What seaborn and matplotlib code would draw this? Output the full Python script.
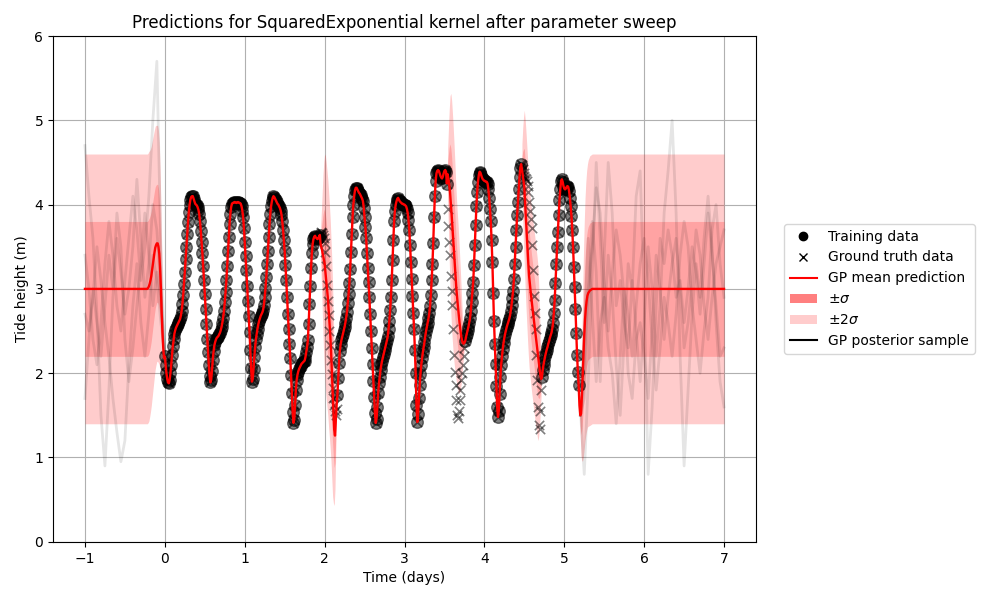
import numpy as np
import pandas as pd
import matplotlib
matplotlib.use("Agg")
import matplotlib.pyplot as plt
import seaborn as sns
from matplotlib.lines import Line2D
from matplotlib.patches import Patch

# ==========================================
# Datos
# ==========================================
# marea observada (ground truth), una lectura cada 0.01 dias desde t=0
obs_start = 0.0
obs_step = 0.01
tide_height = [
    2.20, 2.10, 2.00, 1.93, 1.89, 1.88, 1.92, 2.00, 2.10, 2.22,
    2.32, 2.40, 2.47, 2.51, 2.54, 2.56, 2.58, 2.60, 2.62, 2.64,
    2.68, 2.74, 2.82, 2.93, 3.06, 3.20, 3.35, 3.50, 3.65, 3.79,
    3.91, 4.00, 4.06, 4.09, 4.10, 4.10, 4.07, 4.04, 4.01, 4.00,
    3.99, 3.97, 3.94, 3.89, 3.80, 3.69, 3.56, 3.42, 3.27, 3.11,
    2.94, 2.76, 2.58, 2.41, 2.25, 2.10, 1.97, 1.89, 1.92, 2.03,
    2.16, 2.26, 2.33, 2.37, 2.40, 2.42, 2.43, 2.44, 2.46, 2.48,
    2.51, 2.55, 2.60, 2.66, 2.74, 2.84, 2.96, 3.10, 3.27, 3.45,
    3.62, 3.77, 3.89, 3.97, 4.01, 4.02, 4.02, 4.03, 4.03, 4.02,
    4.02, 4.03, 4.03, 4.02, 4.02, 4.01, 3.98, 3.93, 3.85, 3.72,
    3.56, 3.39, 3.22, 3.04, 2.86, 2.68, 2.49, 2.28, 2.06, 1.90,
    1.93, 2.05, 2.19, 2.31, 2.40, 2.47, 2.53, 2.58, 2.62, 2.65,
    2.68, 2.70, 2.72, 2.75, 2.81, 2.90, 3.01, 3.14, 3.29, 3.45,
    3.62, 3.77, 3.89, 3.98, 4.04, 4.08, 4.10, 4.09, 4.07, 4.05,
    4.03, 4.01, 4.00, 3.98, 3.96, 3.93, 3.88, 3.80, 3.70, 3.58,
    3.45, 3.28, 3.10, 2.90, 2.70, 2.52, 2.35, 2.18, 1.98, 1.76,
    1.54, 1.41, 1.45, 1.62, 1.80, 1.92, 1.98, 2.02, 2.05, 2.07,
    2.09, 2.11, 2.12, 2.13, 2.14, 2.15, 2.19, 2.25, 2.31, 2.39,
    2.58, 2.82, 3.04, 3.25, 3.42, 3.53, 3.59, 3.62, 3.63, 3.61,
    3.60, 3.59, 3.60, 3.62, 3.64, 3.66, 3.67, 3.66, 3.64, 3.60,
    3.54, 3.44, 3.27, 3.05, 2.86, 2.69, 2.50, 2.33, 2.16, 1.99,
    1.83, 1.71, 1.62, 1.55, 1.50, 1.58, 1.74, 1.94, 2.12, 2.26,
    2.34, 2.39, 2.43, 2.47, 2.51, 2.55, 2.60, 2.66, 2.73, 2.83,
    2.94, 3.07, 3.24, 3.44, 3.65, 3.85, 4.00, 4.10, 4.17, 4.20,
    4.20, 4.18, 4.16, 4.14, 4.13, 4.11, 4.09, 4.07, 4.04, 3.96,
    3.85, 3.74, 3.60, 3.43, 3.25, 3.08, 2.90, 2.70, 2.50, 2.30,
    2.11, 1.91, 1.72, 1.53, 1.41, 1.46, 1.60, 1.76, 1.88, 1.96,
    2.04, 2.10, 2.15, 2.19, 2.23, 2.27, 2.31, 2.35, 2.39, 2.44,
    2.52, 2.62, 2.75, 2.90, 3.10, 3.34, 3.58, 3.80, 3.93, 4.00,
    4.04, 4.07, 4.08, 4.06, 4.04, 4.03, 4.02, 4.01, 4.01, 4.00,
    4.00, 3.99, 3.98, 3.95, 3.90, 3.82, 3.70, 3.52, 3.32, 3.12,
    2.92, 2.72, 2.52, 2.28, 2.00, 1.62, 1.42, 1.52, 1.70, 1.86,
    1.99, 2.10, 2.18, 2.25, 2.31, 2.37, 2.44, 2.50, 2.55, 2.60,
    2.65, 2.71, 2.80, 2.93, 3.10, 3.30, 3.55, 3.85, 4.10, 4.28,
    4.37, 4.40, 4.41, 4.40, 4.37, 4.34, 4.32, 4.31, 4.33, 4.37,
    4.40, 4.41, 4.39, 4.25, 3.95, 3.75, 3.56, 3.40, 3.15, 2.97,
    2.81, 2.52, 2.22, 2.02, 1.86, 1.68, 1.50, 1.47, 1.55, 1.68,
    1.80, 1.92, 2.00, 2.10, 2.20, 2.30, 2.38, 2.43, 2.47, 2.51,
    2.55, 2.60, 2.65, 2.74, 2.85, 2.95, 3.08, 3.28, 3.52, 3.76,
    3.98, 4.15, 4.27, 4.35, 4.39, 4.38, 4.35, 4.32, 4.30, 4.29,
    4.28, 4.28, 4.27, 4.27, 4.25, 4.18, 4.08, 3.95, 3.80, 3.58,
    3.32, 2.95, 2.62, 2.35, 2.11, 1.85, 1.60, 1.48, 1.55, 1.75,
    1.95, 2.10, 2.20, 2.29, 2.36, 2.42, 2.47, 2.51, 2.55, 2.58,
    2.61, 2.64, 2.68, 2.74, 2.81, 2.89, 2.98, 3.12, 3.30, 3.50,
    3.70, 3.88, 4.03, 4.18, 4.33, 4.44, 4.48, 4.47, 4.42, 4.37,
    4.34, 4.32, 4.30, 4.28, 4.22, 4.15, 4.03, 3.92, 3.83, 3.72,
    3.52, 3.23, 2.92, 2.72, 2.52, 2.22, 1.92, 1.60, 1.38, 1.34,
    1.55, 1.80, 1.95, 2.04, 2.10, 2.15, 2.20, 2.24, 2.28, 2.31,
    2.35, 2.38, 2.42, 2.45, 2.48, 2.53, 2.60, 2.72, 2.87, 3.07,
    3.30, 3.50, 3.68, 3.88, 4.05, 4.18, 4.28, 4.30, 4.27, 4.22,
    4.19, 4.18, 4.19, 4.21, 4.22, 4.21, 4.16, 4.08, 3.98, 3.86,
    3.70, 3.50, 3.26, 3.02, 2.76, 2.48, 2.22, 2.02, 1.86,
]

# huecos en los datos de entrenamiento (inicio, media GP, desviacion GP)
gap_starts = [1.95, 3.54, 4.47]
gap1_mean = [3.53, 3.49, 3.45, 3.40, 3.35, 3.30, 3.20, 3.10, 3.00, 2.90, 2.76,
             2.62, 2.47, 2.28, 2.05, 1.80, 1.56, 1.33, 1.26, 1.45, 1.62]
gap1_sd = [0.10, 0.22, 0.35, 0.48, 0.58, 0.65, 0.69, 0.70, 0.70, 0.70, 0.70,
           0.69, 0.68, 0.66, 0.65, 0.63, 0.55, 0.45, 0.32, 0.18, 0.06]
gap2_mean = [4.36, 4.30, 4.23, 4.15, 4.02, 3.88, 3.73, 3.58, 3.43, 3.28, 3.13,
             2.99, 2.88, 2.78, 2.68, 2.59, 2.51, 2.44, 2.39, 2.36, 2.35, 2.36]
gap2_sd = [0.15, 0.30, 0.45, 0.57, 0.65, 0.68, 0.68, 0.67, 0.65, 0.62, 0.58,
           0.55, 0.52, 0.50, 0.46, 0.41, 0.35, 0.28, 0.20, 0.13, 0.07, 0.03]
gap3_mean = [4.42, 4.35, 4.28, 4.20, 4.02, 3.84, 3.66, 3.48, 3.30, 3.15, 3.05,
             2.96, 2.87, 2.79, 2.71, 2.63, 2.55, 2.47, 2.40, 2.32, 2.24, 2.15,
             2.06, 1.98, 1.93]
gap3_sd = [0.15, 0.28, 0.38, 0.46, 0.50, 0.52, 0.53, 0.54, 0.54, 0.54, 0.54,
           0.54, 0.54, 0.54, 0.54, 0.54, 0.54, 0.54, 0.53, 0.53, 0.52, 0.45,
           0.35, 0.22, 0.10]

# prediccion fuera del rango de datos
left_t = [-1.00, -0.22, -0.21, -0.20, -0.19, -0.18, -0.17, -0.16, -0.15, -0.14,
          -0.13, -0.12, -0.11, -0.10, -0.09, -0.08, -0.07, -0.06, -0.05, -0.04,
          -0.03, -0.02, -0.01]
left_mean = [3.00, 3.00, 3.01, 3.03, 3.06, 3.10, 3.15, 3.22, 3.29, 3.36,
             3.43, 3.49, 3.52, 3.54, 3.54, 3.50, 3.42, 3.25, 3.02, 2.72,
             2.48, 2.30, 2.18]
left_sd = [0.80, 0.80, 0.80, 0.80, 0.79, 0.78, 0.77, 0.76, 0.75, 0.74,
           0.73, 0.72, 0.71, 0.70, 0.70, 0.69, 0.66, 0.60, 0.50, 0.38,
           0.25, 0.14, 0.06]
right_t = [5.19, 5.20, 5.21, 5.22, 5.23, 5.24, 5.25, 5.26, 5.27, 5.28,
           5.29, 5.30, 5.32, 5.35, 7.00]
right_mean = [1.62, 1.50, 1.52, 1.72, 1.96, 2.22, 2.45, 2.64, 2.77, 2.86,
              2.92, 2.95, 2.98, 3.00, 3.00]
right_sd = [0.05, 0.12, 0.25, 0.38, 0.50, 0.60, 0.67, 0.72, 0.75, 0.77,
            0.78, 0.79, 0.80, 0.80, 0.80]

# muestras de la posterior (cada 0.05 dias)
sample_step = 0.05
sample_left_start = -1.0
sample_right_start = 5.2
sample_left_1 = [4.7, 4.1, 3.6, 2.7, 1.5, 0.9, 1.8, 2.9, 3.6, 3.2, 2.7,
                 3.0, 3.5, 4.3, 3.6, 2.9, 3.3, 4.0, 3.7, 3.0, 2.2]
sample_left_2 = [2.7, 2.5, 2.9, 3.5, 3.1, 2.6, 2.2, 1.7, 1.3, 0.95, 1.2,
                 2.1, 2.8, 3.3, 2.6, 2.2, 2.7, 3.4, 3.1, 2.6, 2.2]
sample_left_3 = [3.4, 3.0, 2.4, 2.1, 2.6, 3.3, 3.8, 3.4, 2.8, 2.5, 3.1,
                 3.6, 4.1, 3.7, 3.1, 3.5, 4.1, 5.0, 5.7, 3.5, 2.2]
sample_left_4 = [1.7, 2.4, 3.0, 2.6, 2.2, 2.8, 3.4, 3.0, 3.9, 3.5, 2.4,
                 1.9, 2.3, 2.8, 3.3, 3.9, 3.4, 2.8, 3.2, 2.9, 2.2]
sample_right_1 = [1.6, 0.8, 1.9, 3.2, 4.5, 3.6, 2.6, 3.4, 2.9, 2.1,
                  1.5, 2.4, 3.3, 3.0, 4.1, 4.4, 2.9, 0.8, 1.6, 2.8,
                  3.6, 3.3, 3.7, 3.4, 2.9, 3.1, 2.6, 3.0, 3.5, 3.2,
                  2.7, 3.3, 3.9, 3.4, 2.8, 2.2, 2.3]
sample_right_2 = [1.5, 1.7, 2.8, 3.8, 3.2, 1.9, 3.4, 4.5, 3.9, 2.8,
                  3.1, 2.6, 2.3, 3.1, 2.5, 1.9, 2.6, 3.5, 3.0, 2.2,
                  2.8, 3.9, 4.4, 5.0, 3.9, 2.2, 0.9, 1.8, 2.7, 3.3,
                  2.9, 3.6, 4.1, 3.5, 2.6, 1.9, 1.6]
sample_right_3 = [1.5, 2.5, 3.6, 2.7, 1.9, 2.6, 2.9, 2.3, 2.0, 1.4,
                  2.2, 3.0, 2.7, 2.2, 2.8, 3.3, 3.6, 3.1, 2.4, 1.8,
                  2.3, 2.9, 2.6, 2.2, 2.7, 3.4, 3.8, 3.5, 2.8, 2.4,
                  2.0, 2.5, 2.9, 3.7, 4.0, 3.3, 2.9]
sample_right_4 = [1.5, 2.1, 3.0, 3.5, 4.2, 3.9, 3.1, 2.5, 3.2, 3.7,
                  3.4, 2.9, 2.0, 1.7, 2.4, 2.6, 2.2, 1.7, 2.5, 3.4,
                  3.0, 2.4, 2.9, 3.3, 3.6, 3.0, 2.3, 2.6, 3.1, 3.7,
                  3.4, 2.8, 2.4, 2.9, 3.3, 3.5, 3.7]

# ==========================================
# Preparacion
# ==========================================
tide = np.array(tide_height)
t_obs = np.round(obs_start + obs_step * np.arange(len(tide)), 2)

gap_means = [gap1_mean, gap2_mean, gap3_mean]
gap_sds = [gap1_sd, gap2_sd, gap3_sd]
gap_ts = [np.round(s + obs_step * np.arange(len(m)), 2) for s, m in zip(gap_starts, gap_means)]

in_gap = np.zeros(len(t_obs), dtype=bool)
mean_obs = tide.copy()
for gt, gm in zip(gap_ts, gap_means):
    idx = np.searchsorted(t_obs, gt)
    in_gap[idx] = True
    mean_obs[idx] = gm

train_df = pd.DataFrame({"t": t_obs[~in_gap], "h": tide[~in_gap]})
truth_df = pd.DataFrame({"t": t_obs, "h": tide})
mean_df = pd.DataFrame({
    "t": np.concatenate([left_t, t_obs, right_t]),
    "h": np.concatenate([left_mean, mean_obs, right_mean]),
})

rows = []
left_s = [sample_left_1, sample_left_2, sample_left_3, sample_left_4]
right_s = [sample_right_1, sample_right_2, sample_right_3, sample_right_4]
for k, s in enumerate(left_s):
    ts = np.round(sample_left_start + sample_step * np.arange(len(s)), 2)
    rows.append(pd.DataFrame({"t": ts, "h": s, "unit": f"L{k}"}))
for k, s in enumerate(right_s):
    ts = np.round(sample_right_start + sample_step * np.arange(len(s)), 2)
    rows.append(pd.DataFrame({"t": ts, "h": s, "unit": f"R{k}"}))
samples_df = pd.concat(rows, ignore_index=True)

band_segments = [(left_t, left_mean, left_sd)] + \
    list(zip(gap_ts, gap_means, gap_sds)) + [(right_t, right_mean, right_sd)]

# ==========================================
# Grafico
# ==========================================
fig = plt.figure(figsize=(10, 6), dpi=100)
ax = fig.add_axes([0.053, 0.097, 0.703, 0.843])

for bt, bm, bs in band_segments:
    bt, bm, bs = np.asarray(bt), np.asarray(bm), np.asarray(bs)
    ax.fill_between(bt, bm - 2 * bs, bm + 2 * bs, color="red", alpha=0.2, lw=0, zorder=1)
    ax.fill_between(bt, bm - bs, bm + bs, color="red", alpha=0.2, lw=0, zorder=1)

sns.lineplot(data=samples_df, x="t", y="h", units="unit", estimator=None,
             color="k", alpha=0.1, lw=2, ax=ax, legend=False, zorder=2)

sns.scatterplot(data=truth_df, x="t", y="h", marker="x", color="k", alpha=0.5,
                s=45, linewidth=1.2, ax=ax, legend=False, zorder=3)
sns.scatterplot(data=train_df, x="t", y="h", marker="o", color="k", alpha=0.5,
                s=70, edgecolor="k", linewidth=1.0, ax=ax, legend=False, zorder=4)

sns.lineplot(data=mean_df, x="t", y="h", estimator=None, sort=True,
             color="red", lw=1.7, ax=ax, zorder=5)

ax.set_xlim(-1.4, 7.4)
ax.set_ylim(0, 6)
ax.grid(True)
ax.set_axisbelow(True)
ax.set_title("Predictions for SquaredExponential kernel after parameter sweep")
ax.set_xlabel("Time (days)")
ax.set_ylabel("Tide height (m)")

handles = [
    Line2D([], [], color="k", marker="o", ls="none", label="Training data"),
    Line2D([], [], color="k", marker="x", ls="none", label="Ground truth data"),
    Line2D([], [], color="red", lw=1.5, label="GP mean prediction"),
    Patch(facecolor="red", alpha=0.5, label=r"$\pm\sigma$"),
    Patch(facecolor="red", alpha=0.2, label=r"$\pm2\sigma$"),
    Line2D([], [], color="k", lw=1.5, label="GP posterior sample"),
]
ax.legend(handles=handles, loc="center left", bbox_to_anchor=(1.03, 0.5))

fig.savefig("out.png", dpi=100)
